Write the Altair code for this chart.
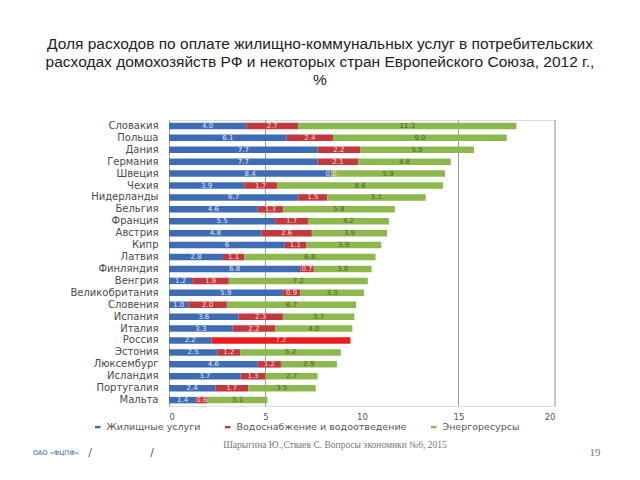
import altair as alt
import pandas as pd

countries = ["Словакия", "Польша", "Дания", "Германия", "Швеция", "Чехия", "Нидерланды",
             "Бельгия", "Франция", "Австрия", "Кипр", "Латвия", "Финляндия", "Венгрия",
             "Великобритания", "Словения", "Испания", "Италия", "Россия", "Эстония",
             "Люксембург", "Исландия", "Португалия", "Мальта"]
series = ["Жилищные услуги", "Водоснабжение и водоотведение", "Энергоресурсы"]
housing = [4.0, 6.1, 7.7, 7.7, 8.4, 3.9, 6.7, 4.6, 5.5, 4.8, 6.0, 2.8, 6.8, 1.2,
           5.9, 1.0, 3.6, 3.3, 2.2, 2.5, 4.6, 3.7, 2.4, 1.4]
water = [2.7, 2.4, 2.2, 2.1, 0.0, 1.7, 1.5, 1.3, 1.7, 2.6, 1.1, 1.1, 0.7, 1.9,
         0.9, 2.0, 2.3, 2.2, 7.2, 1.2, 1.2, 1.3, 1.7, 0.6]
energy = [11.3, 9.0, 5.9, 4.8, 5.9, 8.6, 5.1, 5.8, 4.2, 3.9, 3.9, 6.8, 3.0, 7.2,
          3.3, 6.7, 3.7, 4.0, None, 5.2, 2.9, 2.7, 3.5, 3.1]
x_ticks = [0, 5, 10, 15, 20]
grid_values = [5, 15, 20]

title_lines = ["Доля расходов по оплате жилищно-коммунальных услуг в потребительских",
               "расходах домохозяйств РФ и некоторых стран Европейского Союза, 2012 г.,",
               "%"]

rows = []
for i, c in enumerate(countries):
    for k, vals in enumerate([housing, water, energy]):
        v = vals[i]
        if v is None:
            continue
        lab = "6" if (k == 0 and c == "Кипр") else f"{v:.1f}"
        rows.append({"country": c, "series": series[k], "order": k, "value": v, "label": lab})
df = pd.DataFrame(rows)

W, H = 386, 286
bar_colors = ["#3D6CB4", "#C0393C", "#8DB84E"]
label_colors = ["#E4EAF6", "#F6D8D8", "#4E5E2E"]

base = alt.Chart(df).transform_stack(
    stack="value", groupby=["country"], as_=["x0", "x1"],
    sort=[alt.SortField("order", order="ascending")]
).transform_calculate(mid="(datum.x0 + datum.x1) / 2")

yenc = alt.Y("country:N", sort=countries,
             scale=alt.Scale(paddingInner=0.45, paddingOuter=0.22),
             axis=alt.Axis(title=None, labelFont="DejaVu Sans", labelFontSize=10,
                           labelColor="#4A4A4A", ticks=False, labelPadding=11,
                           domainColor="#A0A0A0", domainWidth=1))

xscale = alt.Scale(domain=[0, 20], nice=False)

bars = base.mark_bar(size=6.5).encode(
    y=yenc,
    x=alt.X("x0:Q", scale=xscale,
            axis=alt.Axis(title=None, values=x_ticks, grid=False, domain=False, ticks=False,
                          labelFont="DejaVu Sans", labelFontSize=8.5, labelColor="#555",
                          labelPadding=6)),
    x2="x1:Q",
    color=alt.condition(
        "datum.country == 'Россия' && datum.order == 1",
        alt.value("#EC1C1C"),
        alt.Color("series:N", scale=alt.Scale(domain=series, range=bar_colors),
                  legend=alt.Legend(title=None, orient="none", direction="horizontal",
                                    legendX=-76, legendY=302,
                                    labelFont="DejaVu Sans", labelFontSize=9.5,
                                    labelColor="#555", columnPadding=22, labelLimit=0,
                                    symbolType="M-1,-0.45L1,-0.45L1,0.45L-1,0.45Z",
                                    symbolSize=30, symbolStrokeWidth=0))
    ),
)

labels = base.mark_text(font="DejaVu Sans", fontSize=7, baseline="middle").encode(
    y=alt.Y("country:N", sort=countries),
    x=alt.X("mid:Q", scale=xscale),
    text="label:N",
    color=alt.Color("series:N", scale=alt.Scale(domain=series, range=label_colors), legend=None),
)

grid = alt.Chart(pd.DataFrame({"g": grid_values})).mark_rule(color="#9A9A9A", strokeWidth=1).encode(
    x=alt.X("g:Q", scale=xscale), y=alt.value(0), y2=alt.value(H))

footer_df = pd.DataFrame({"t": ["ОАО «ФЦПФ»"]})
foot1 = alt.Chart(footer_df).mark_text(align="left", baseline="middle", font="DejaVu Sans",
                                       fontSize=6.5, color="#2F5F9F").encode(
    x=alt.value(-136), y=alt.value(333), text="t:N")
slash1 = alt.Chart(footer_df).mark_text(align="center", baseline="middle", font="DejaVu Sans",
                                        fontSize=11, color="#555").encode(
    x=alt.value(-79), y=alt.value(333), text=alt.value("/"))
slash2 = alt.Chart(footer_df).mark_text(align="center", baseline="middle", font="DejaVu Sans",
                                        fontSize=11, color="#555").encode(
    x=alt.value(-17), y=alt.value(333), text=alt.value("/"))
cite = alt.Chart(footer_df).mark_text(align="center", baseline="middle", font="Liberation Serif",
                                      fontSize=9.5, color="#777").encode(
    x=alt.value(166), y=alt.value(325),
    text=alt.value("Шарыгина Ю.,Стваев С. Вопросы экономики №6, 2015"))
page = alt.Chart(footer_df).mark_text(align="center", baseline="middle", font="Liberation Serif",
                                      fontSize=11, color="#777").encode(
    x=alt.value(426), y=alt.value(333), text=alt.value("19"))

chart = alt.layer(grid, bars, labels, foot1, slash1, slash2, cite, page).resolve_scale(
    color="independent"
).properties(
    width=W, height=H,
    title=alt.TitleParams(text=title_lines, anchor="middle", dx=-42, offset=31,
                          font="Liberation Sans", fontSize=15.5, fontWeight="normal",
                          color="#222", lineHeight=18),
    autosize=alt.AutoSizeParams(type="none"),
    padding={"left": 161, "top": 112, "right": 70, "bottom": 70},
).configure_view(stroke=None).configure(background="white")

chart.save("out.html", embed_options={"renderer": "svg", "actions": False})
